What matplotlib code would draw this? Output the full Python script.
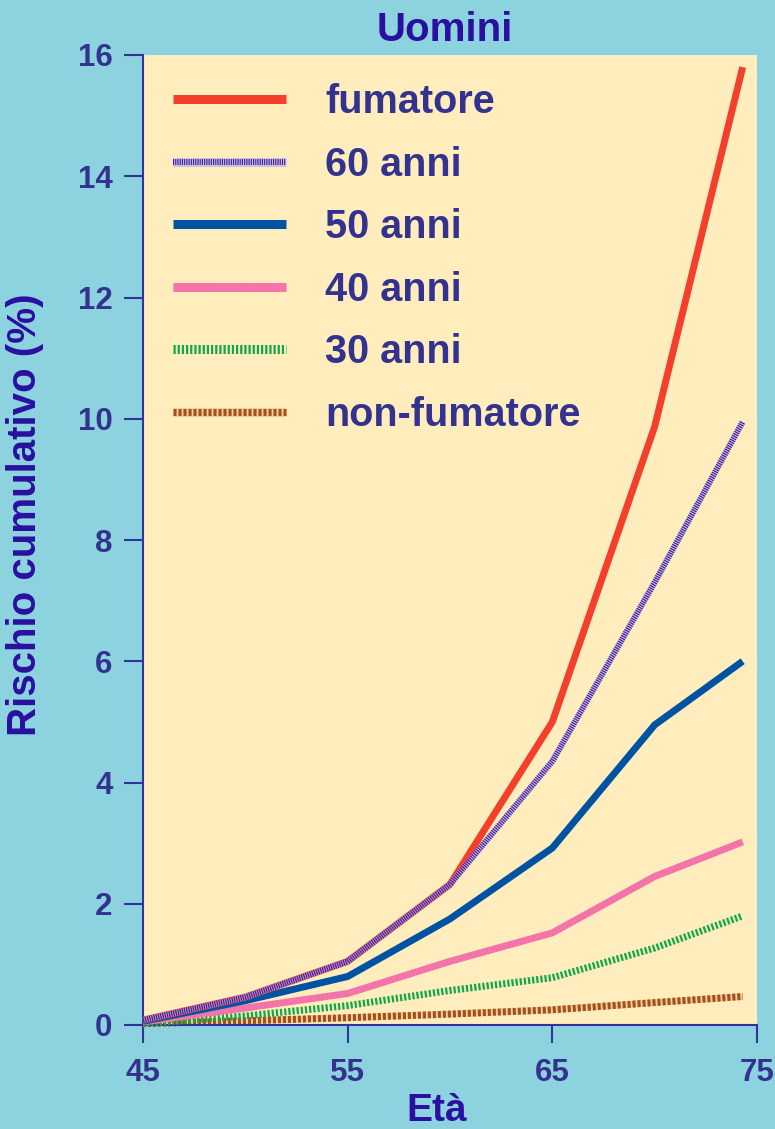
import matplotlib
matplotlib.use("Agg")
import matplotlib.pyplot as plt

plt.rcParams['font.family'] = ['Liberation Sans', 'DejaVu Sans']
plt.rcParams['lines.scale_dashes'] = False

# ---------------- data ----------------
ages = [45, 50, 55, 60, 65, 70, 74.3]
fumatore = [0.08, 0.46, 1.05, 2.32, 5.0, 9.87, 15.8]
anni60 = [0.08, 0.46, 1.05, 2.32, 4.35, 7.3, 9.95]
anni50 = [0.06, 0.40, 0.80, 1.75, 2.92, 4.95, 6.0]
anni40 = [0.05, 0.28, 0.52, 1.05, 1.52, 2.45, 3.02]
anni30 = [0.02, 0.15, 0.32, 0.57, 0.78, 1.27, 1.8]
nonfumatore = [0.02, 0.07, 0.12, 0.18, 0.25, 0.37, 0.47]

labels = ['fumatore', '60 anni', '50 anni', '40 anni', '30 anni', 'non-fumatore']
xticks = [45, 55, 65, 75]
yticks = [0, 2, 4, 6, 8, 10, 12, 14, 16]
title = 'Uomini'
xlabel = 'Età'
ylabel = 'Rischio cumulativo (%)'

# ---------------- style ----------------
FIG_BG = '#8CD3DF'
AX_BG = '#FFEDBE'
TXT = '#33338F'
LAB = '#2A0FA0'
LW = 5.0

fig = plt.figure(figsize=(7.75, 11.29), dpi=100, facecolor=FIG_BG)
ax = fig.add_axes([143/775, 1-1025/1129, 614/775, 970/1129])
ax.set_facecolor(AX_BG)

# non-fumatore: brown dashes over tan base
b1, = ax.plot(ages, nonfumatore, color='#EFCF9E', lw=LW, zorder=2, clip_on=False, solid_capstyle='butt')
b2, = ax.plot(ages, nonfumatore, color='#A4501A', lw=LW, zorder=2.1, clip_on=False,
              dashes=(2.2, 1.4), dash_capstyle='butt')
# 30 anni: green dotted
g1, = ax.plot(ages, anni30, color='#10A84A', lw=LW, zorder=3, clip_on=False,
              dashes=(1.6, 1.4), dash_capstyle='butt')
# 40 anni: pink
p1, = ax.plot(ages, anni40, color='#F47AAB', lw=LW, zorder=4, clip_on=False, solid_capstyle='butt')
p2, = ax.plot(ages, anni40, color='#EE3C9E', lw=LW, zorder=4.1, clip_on=False, alpha=0.35,
              dashes=(0.5, 1.5), dash_capstyle='butt')
# 50 anni: blue
bl, = ax.plot(ages, anni50, color='#0053A3', lw=LW, zorder=5, clip_on=False, solid_capstyle='butt')
# fumatore: red
rd, = ax.plot(ages, fumatore, color='#F4402A', lw=LW, zorder=6, clip_on=False, solid_capstyle='butt')
# 60 anni: purple hatched
u1, = ax.plot(ages, anni60, color='#B9AAEA', lw=LW * 0.85, zorder=7, clip_on=False, solid_capstyle='butt', alpha=0.7)
u2, = ax.plot(ages, anni60, color='#3A1A9C', lw=LW * 0.85, zorder=7.1, clip_on=False,
              dashes=(0.8, 0.8), dash_capstyle='butt')

ax.set_xlim(45, 75)
ax.set_ylim(0, 16)
ax.set_xticks(xticks)
ax.set_yticks(yticks)
ax.set_xticklabels([str(v) for v in xticks])
ax.set_yticklabels([str(v) for v in yticks])

for s in ['top', 'right']:
    ax.spines[s].set_visible(False)
for s in ['left', 'bottom']:
    ax.spines[s].set_color('#33339A')
    ax.spines[s].set_linewidth(1.5)

ax.tick_params(axis='both', colors='#33339A', width=1.5, labelcolor=TXT,
               labelsize=22.5, direction='out')
ax.tick_params(axis='y', length=14, pad=8)
ax.tick_params(axis='x', length=13, pad=11)
for t in ax.get_xticklabels() + ax.get_yticklabels():
    t.set_fontweight('bold')

ax.set_ylabel(ylabel, fontsize=29, fontweight='bold', color=LAB)
ax.yaxis.set_label_coords(-0.162, 0.526)
ax.set_xlabel(xlabel, fontsize=28, fontweight='bold', color=LAB)
ax.xaxis.set_label_coords(0.479, -0.070)

fig.text(445/775, 1-30/1129, title, fontsize=29, fontweight='bold', color=LAB,
         ha='center', va='center')

handles = [rd, (u1, u2), bl, (p1, p2), g1, (b1, b2)]
leg = ax.legend(handles, labels, loc='upper left', bbox_to_anchor=(0.049, 0.971),
                frameon=False, prop={'size': 28.5, 'weight': 'bold'},
                handlelength=2.85, handletextpad=1.0, labelspacing=0.62,
                borderpad=0, borderaxespad=0)
for t in leg.get_texts():
    t.set_color(TXT)
for ln in leg.get_lines():
    ln.set_linewidth(6.5)

fig.savefig('out.png', dpi=100, facecolor=FIG_BG)
